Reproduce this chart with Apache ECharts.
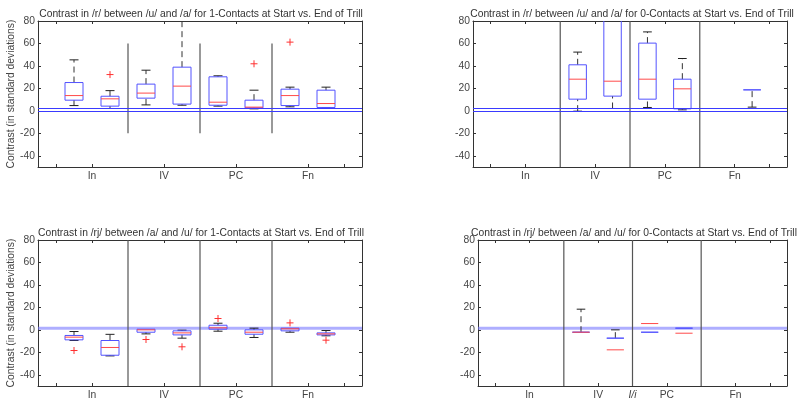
<!DOCTYPE html>
<html><head><meta charset="utf-8">
<script src="https://cdn.jsdelivr.net/npm/echarts@6/dist/echarts.min.js"></script>
<style>html,body{margin:0;padding:0;background:#fff}#c{width:800px;height:404px}</style>
</head><body><div id="c"></div>
<script>
// ---- data ----
const categories = ['In', 'IV', 'PC', 'Fn'];
const categoryPositions = [1.5, 3.5, 5.5, 7.5];
const extraLabel = 'I/i';
const extraLabelPosition = 4.5;
const yTickValues = [-40, -20, 0, 20, 40, 60, 80];
const xTickValues = [0.5, 1.5, 3.5, 5.5, 7.5, 8.5];
const yLabel = 'Contrast (in standard deviations)';
const titles = [
  'Contrast in /r/ between /u/ and /a/ for 1-Contacts at Start vs. End of Trill',
  'Contrast in /r/ between /u/ and /a/ for 0-Contacts at Start vs. End of Trill',
  'Contrast in /rj/ between /a/ and /u/ for 1-Contacts at Start vs. End of Trill',
  'Contrast in /rj/ between /a/ and /u/ for 0-Contacts at Start vs. End of Trill'
];
// boxes: [position, lowerWhisker, q1, median, q3, upperWhisker]  ('-' = no median line shown)
const boxesTL = [
  [1, 4.7, 9.5, 13.6, 25.2, 45.4],
  [2, 2.1, 4.2, 10.7, 13.0, 18.0],
  [3, 5.3, 11.3, 15.8, 23.8, 36.2],
  [4, 5.0, 6.0, 22.0, 38.9, 95.0],
  [5, 4.2, 5.0, 7.7, 30.3, 31.2],
  [6, 1.8, 2.7, 3.3, 9.5, 18.4],
  [7, 3.6, 4.7, 13.6, 19.3, 21.1],
  [8, 2.8, 3.0, 6.5, 18.4, 21.1]
];
const outliersTL = [[2, 32.3], [6, 41.9], [7, 61.2]];
const boxesTR = [
  [3, -0.3, 10.4, 28.2, 41.0, 52.3],
  [4, 2.1, 13.1, 26.4, 100, 120],
  [5, 3.0, 10.4, 28.2, 60.3, 70.3],
  [6, 0.9, 1.8, 19.6, 28.2, 46.6],
  [8, 3.3, 18.7, '-', 18.7, 18.7]
];
const outliersTR = [];
const boxesBL = [
  [1, -9.5, -8.9, -6.5, -5.0, -1.5],
  [2, -23.2, -22.6, -15.7, -9.5, -4.0],
  [3, -3.6, -2.1, 0.0, 0.6, 0.6],
  [4, -7.4, -4.5, -2.7, -0.9, -0.3],
  [5, -1.2, 0.6, 1.8, 4.1, 5.9],
  [6, -6.8, -3.9, -2.1, 0.0, 1.5],
  [7, -2.1, -0.9, 0.9, 1.5, 1.5],
  [8, -5.3, -4.5, -3.6, -2.7, -0.6]
];
const outliersBL = [[1, -18.4], [3, -8.6], [4, -15.1], [5, 10.1], [7, 6.2], [8, -9.2]];
const boxesBR = [
  [3, -2.1, -2.1, -2.1, -2.1, 18.4],
  [4, -7.4, -7.4, -17.8, -7.4, 0.0],
  [5, -2.1, -2.1, 5.6, -2.1, -2.1],
  [6, 1.5, 1.5, -3.0, 1.5, 1.5]
];
const outliersBR = [];
// dividers: [x, yFrom, yTo]
const dividersTL = [[2.5, -20, 60], [4.5, -20, 60], [6.5, -20, 60]];
const dividersFull = [[2.5, -50, 80], [4.5, -50, 80], [6.5, -50, 80]];
const referenceLines = [0, 2.4];
const referenceBand = [0, 2.8];

// ---- chart ----
const FONT = 'Liberation Sans, Arial, sans-serif';
const AX = '#333';
const grids = [
  {left: 38, top: 21, width: 324, height: 146},
  {left: 473, top: 21, width: 314, height: 146},
  {left: 38, top: 240, width: 324, height: 146},
  {left: 478, top: 240, width: 309, height: 146}
];
const titleCenters = [[196, 4], [627, 4], [196, 223], [629, 223]];

function seg(p1, p2, style) {
  return {type: 'line', shape: {x1: p1[0], y1: p1[1], x2: p2[0], y2: p2[1]}, style: style};
}
function boxItem(params, api) {
  const x = api.value(0), lo = api.value(1), q1 = api.value(2), med = api.value(3), q3 = api.value(4), hi = api.value(5);
  const c = (a, b) => api.coord([a, b]);
  const bw = 0.25, cw = 0.125;
  const kids = [];
  const wStyle = {stroke: '#333', lineWidth: 1, lineDash: [6, 4], fill: null};
  const capStyle = {stroke: '#222', lineWidth: 1, fill: null};
  if (hi > q3) { kids.push(seg(c(x, q3), c(x, hi), wStyle)); kids.push(seg(c(x - cw, hi), c(x + cw, hi), capStyle)); }
  if (lo < q1) { kids.push(seg(c(x, lo), c(x, q1), wStyle)); kids.push(seg(c(x - cw, lo), c(x + cw, lo), capStyle)); }
  const a = c(x - bw, q3), b = c(x + bw, q1);
  kids.push({type: 'rect', shape: {x: a[0], y: a[1], width: b[0] - a[0], height: b[1] - a[1]},
    style: {fill: null, stroke: '#5252ff', lineWidth: 1}});
  if (!isNaN(med)) kids.push(seg(c(x - bw, med), c(x + bw, med), {stroke: '#ff4a4a', lineWidth: 1}));
  return {type: 'group', children: kids};
}
function plusItem(params, api) {
  const p = api.coord([api.value(0), api.value(1)]);
  const s = 3.5, st = {stroke: '#ff3030', lineWidth: 1};
  return {type: 'group', children: [seg([p[0] - s, p[1]], [p[0] + s, p[1]], st), seg([p[0], p[1] - s], [p[0], p[1] + s], st)]};
}
function dividerItem(params, api) {
  const x = api.value(0);
  return seg(api.coord([x, api.value(1)]), api.coord([x, api.value(2)]), {stroke: '#555', lineWidth: 1.2});
}

const panels = [
  {boxes: boxesTL, outliers: outliersTL, dividers: dividersTL, band: false, ylabel: true, extra: false},
  {boxes: boxesTR, outliers: outliersTR, dividers: dividersFull, band: false, ylabel: false, extra: false},
  {boxes: boxesBL, outliers: outliersBL, dividers: dividersFull, band: true, ylabel: true, extra: false},
  {boxes: boxesBR, outliers: outliersBR, dividers: dividersFull, band: true, ylabel: false, extra: true}
];

const xAxes = [], yAxes = [], series = [];
panels.forEach((pn, g) => {
  const labelMap = {};
  categories.forEach((cName, i) => { labelMap[String(categoryPositions[i])] = cName; });
  let labelVals = categoryPositions.slice();
  let tickVals = xTickValues.slice();
  if (pn.extra) {
    labelMap[String(extraLabelPosition)] = '{it|' + extraLabel + '}';
    labelVals = labelVals.concat([extraLabelPosition]).sort((a, b) => a - b);
    tickVals = tickVals.concat([extraLabelPosition]).sort((a, b) => a - b);
  }
  const lineSt = {show: true, onZero: false, lineStyle: {color: AX, width: 1}};
  const tickSt = {show: true, inside: true, length: 3, lineStyle: {color: AX}};
  xAxes.push({gridIndex: g, type: 'value', min: 0, max: 9, position: 'bottom',
    splitLine: {show: false}, axisLine: lineSt,
    axisTick: Object.assign({customValues: tickVals}, tickSt),
    axisLabel: {customValues: labelVals, formatter: v => labelMap[String(v)] || '', margin: 4,
      color: '#444', fontSize: 10.3, fontFamily: FONT,
      rich: {it: {fontStyle: 'italic', fontSize: 10.3, fontFamily: FONT, color: '#444'}}}});
  xAxes.push({gridIndex: g, type: 'value', min: 0, max: 9, position: 'top',
    splitLine: {show: false}, axisLine: lineSt,
    axisTick: Object.assign({customValues: tickVals}, tickSt), axisLabel: {show: false}});
  yAxes.push({gridIndex: g, type: 'value', min: -50, max: 80, position: 'left',
    splitLine: {show: false}, axisLine: lineSt,
    axisTick: Object.assign({customValues: yTickValues}, tickSt),
    axisLabel: {customValues: yTickValues, margin: 3, color: '#444', fontSize: 10.3, fontFamily: FONT},
    name: pn.ylabel ? yLabel : '', nameLocation: 'middle', nameGap: 22,
    nameTextStyle: {fontSize: 10.3, color: '#444', fontFamily: FONT}});
  yAxes.push({gridIndex: g, type: 'value', min: -50, max: 80, position: 'right',
    splitLine: {show: false}, axisLine: lineSt,
    axisTick: Object.assign({customValues: yTickValues}, tickSt), axisLabel: {show: false}});
  const xi = 2 * g, yi = 2 * g;
  const divSeries = {type: 'custom', xAxisIndex: xi, yAxisIndex: yi, data: pn.dividers,
    renderItem: dividerItem, silent: true, z: 2, clip: true};
  if (pn.band) {
    divSeries.markArea = {silent: true, itemStyle: {color: 'rgba(120,120,255,0.6)'},
      data: [[{yAxis: referenceBand[0]}, {yAxis: referenceBand[1]}]]};
  } else {
    divSeries.markLine = {silent: true, symbol: 'none', label: {show: false},
      lineStyle: {color: '#3a3aff', width: 1, type: 'solid'},
      data: referenceLines.map(v => ({yAxis: v}))};
  }
  series.push(divSeries);
  series.push({type: 'custom', xAxisIndex: xi, yAxisIndex: yi, data: pn.boxes,
    renderItem: boxItem, silent: true, z: 3, clip: true,
    encode: {x: 0, y: [1, 2, 3, 4, 5]}});
  series.push({type: 'custom', xAxisIndex: xi, yAxisIndex: yi, data: pn.outliers,
    renderItem: plusItem, silent: true, z: 4, clip: true, encode: {x: 0, y: 1}});
});

const chart = echarts.init(document.getElementById('c'), null, {renderer: 'canvas'});
chart.setOption({
  animation: false,
  backgroundColor: '#fff',
  title: titles.map((t, i) => ({text: t, left: titleCenters[i][0], top: titleCenters[i][1], textAlign: 'center',
    textStyle: {fontSize: 10.3, fontWeight: 'normal', color: '#333', fontFamily: FONT}})),
  grid: grids,
  xAxis: xAxes,
  yAxis: yAxes,
  series: series
});
</script></body></html>
